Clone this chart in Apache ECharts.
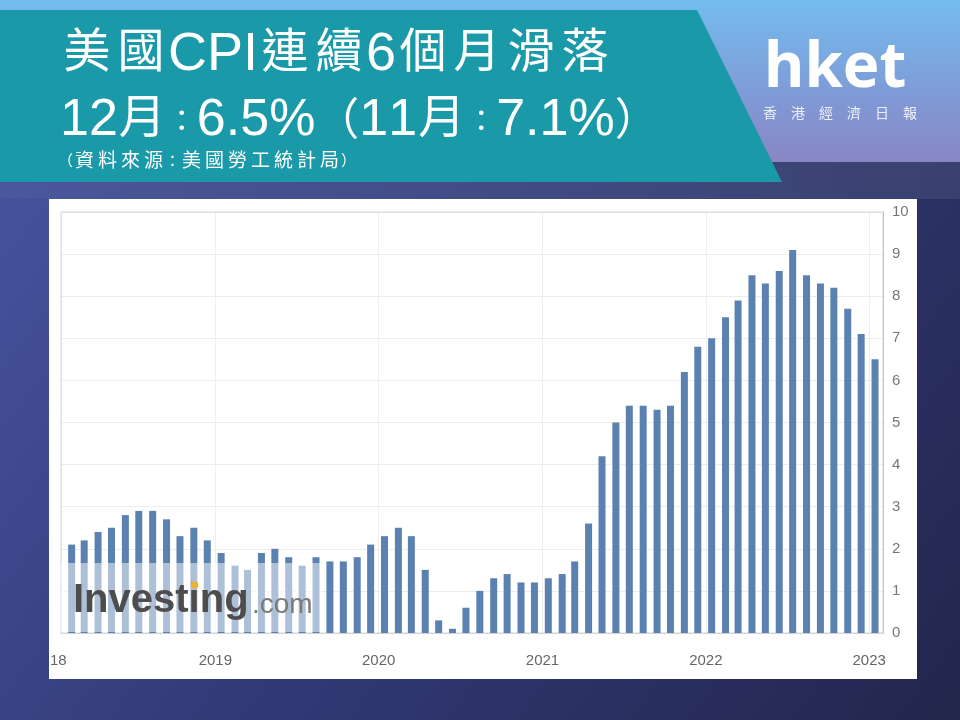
<!DOCTYPE html>
<html><head><meta charset="utf-8">
<script src="https://cdn.jsdelivr.net/npm/echarts@6/dist/echarts.min.js"></script>
<style>html,body{margin:0;padding:0;background:#2b2f60}#c{width:960px;height:720px}</style>
</head><body><div id="c"></div>
<script>
// Months (reference month of each CPI reading)
const months = [
 '2018-01','2018-02','2018-03','2018-04','2018-05','2018-06','2018-07','2018-08','2018-09','2018-10','2018-11','2018-12',
 '2019-01','2019-02','2019-03','2019-04','2019-05','2019-06','2019-07','2019-08','2019-09','2019-10','2019-11','2019-12',
 '2020-01','2020-02','2020-03','2020-04','2020-05','2020-06','2020-07','2020-08','2020-09','2020-10','2020-11','2020-12',
 '2021-01','2021-02','2021-03','2021-04','2021-05','2021-06','2021-07','2021-08','2021-09','2021-10','2021-11','2021-12',
 '2022-01','2022-02','2022-03','2022-04','2022-05','2022-06','2022-07','2022-08','2022-09','2022-10','2022-11','2022-12'
];
// US CPI YoY (%)
const cpi = [
 2.1,2.2,2.4,2.5,2.8,2.9,2.9,2.7,2.3,2.5,2.2,1.9,
 1.6,1.5,1.9,2.0,1.8,1.6,1.8,1.7,1.7,1.8,2.1,2.3,
 2.5,2.3,1.5,0.3,0.1,0.6,1.0,1.3,1.4,1.2,1.2,1.3,
 1.4,1.7,2.6,4.2,5.0,5.4,5.4,5.3,5.4,6.2,6.8,7.0,
 7.5,7.9,8.5,8.3,8.6,9.1,8.5,8.3,8.2,7.7,7.1,6.5
];
const yMin = 0, yMax = 10, yStep = 1;
const clippedFirstYearLabel = '18';
const titleLine1 = '美國CPI連續6個月滑落';
const titleLine2 = '12月：6.5%（11月：7.1%）';
const sourceLine = '（資料來源：美國勞工統計局）';

// Readings are plotted on their release date (about mid of the following month)
function releaseTime(m) {
  const [y, mo] = m.split('-').map(Number);
  return new Date(y, mo, 14).getTime();
}
const barData = months.map((m, i) => [releaseTime(m), cpi[i]]);

// build rich text: latin / cjk / bracket / colon tokens
function rich(str) {
  let out = '';
  for (const ch of str) {
    let cls = 'l';
    if (ch === '：') cls = 'k';
    else if ('（）'.includes(ch)) cls = 'p';
    else if (ch.charCodeAt(0) > 0x2e80) cls = 'c';
    out += '{' + cls + '|' + ch + '}';
  }
  return out;
}
const LAT = '"Liberation Sans",sans-serif';
const CJK = '"Noto Sans CJK TC","Liberation Sans",sans-serif';

const chart = echarts.init(document.getElementById('c'), null, {renderer: 'canvas'});
chart.setOption({
  animation: false,
  backgroundColor: 'transparent',
  grid: {left: 61, right: 77, top: 212, bottom: 87, show: true, borderColor: '#d6d6d6', borderWidth: 1, z: 1},
  xAxis: {
    type: 'time',
    min: new Date(2018, 0, 29).getTime(),
    max: new Date(2023, 0, 24).getTime(),
    minInterval: 365 * 24 * 3600 * 1000,
    axisLine: {show: true, lineStyle: {color: '#c9d3e0'}},
    axisTick: {show: false},
    axisLabel: {formatter: '{yyyy}', color: '#666', fontSize: 15, fontFamily: 'Liberation Sans', margin: 20,
                showMinLabel: false, showMaxLabel: false},
    splitLine: {show: true, lineStyle: {color: '#eeeeee'}}
  },
  yAxis: {
    type: 'value', position: 'right', min: yMin, max: yMax, interval: yStep,
    axisLine: {show: true, lineStyle: {color: '#b0b0b0'}},
    axisTick: {show: false},
    axisLabel: {color: '#777', fontSize: 15, fontFamily: 'Liberation Sans', margin: 9},
    splitLine: {show: true, lineStyle: {color: '#ececec'}}
  },
  series: [{
    type: 'bar', data: barData, barWidth: 7,
    itemStyle: {color: '#5a81b0'}, z: 3
  }],
  graphic: [
    // background
    {type: 'rect', z: -20, shape: {x: 0, y: 0, width: 960, height: 720},
     style: {fill: new echarts.graphic.LinearGradient(0, 0, 1, 1, [
       {offset: 0, color: '#4a58a4'}, {offset: 0.5, color: '#333a78'}, {offset: 1, color: '#22264c'}])}},
    {type: 'rect', z: -19, shape: {x: 0, y: 0, width: 960, height: 162},
     style: {fill: new echarts.graphic.LinearGradient(0, 0, 0, 1, [
       {offset: 0, color: '#74bcee'}, {offset: 0.6, color: '#7f9ad6'}, {offset: 1, color: '#8a86c4'}])}},
    {type: 'rect', z: -19, shape: {x: 0, y: 162, width: 960, height: 37},
     style: {fill: new echarts.graphic.LinearGradient(0, 0, 1, 0, [
       {offset: 0, color: '#4b579c'}, {offset: 1, color: '#3a406e'}])}},
    // teal banner
    {type: 'polygon', z: -18, shape: {points: [[0, 10], [697, 10], [782, 182], [0, 182]]},
     style: {fill: '#1a99a8'}},
    // title texts
    {type: 'text', z: -17, style: {text: rich(titleLine1), x: 60, y: 54, verticalAlign: 'middle', fill: '#fff',
      rich: {l: {fontSize: 54, fontFamily: LAT, fill: '#fff', verticalAlign: 'bottom'},
             c: {fontSize: 47, fontFamily: CJK, fill: '#fff', verticalAlign: 'bottom', padding: [0, 3.5, 9, 3.5]},
             k: {fontSize: 30, fontFamily: CJK, fill: '#fff', verticalAlign: 'middle'},
             p: {fontSize: 44, fontFamily: CJK, fill: '#fff', verticalAlign: 'bottom', padding: [0, 0, 6, 0]}}}},
    {type: 'text', z: -17, style: {text: rich(titleLine2), x: 60, y: 119, verticalAlign: 'middle', fill: '#fff',
      rich: {l: {fontSize: 52, fontFamily: LAT, fill: '#fff', verticalAlign: 'bottom'},
             c: {fontSize: 47, fontFamily: CJK, fill: '#fff', verticalAlign: 'bottom', padding: [0, 1, 8, 1]},
             k: {fontSize: 30, fontFamily: CJK, fill: '#fff', verticalAlign: 'bottom', padding: [0, 0, 12, 0]},
             p: {fontSize: 44, fontFamily: CJK, fill: '#fff', verticalAlign: 'bottom', padding: [0, 0, 6, 0]}}}},
    {type: 'text', z: -17, style: {text: rich(sourceLine), x: 58, y: 160, verticalAlign: 'middle', fill: '#fff',
      rich: {l: {fontSize: 19, fontFamily: LAT, fill: '#fff'},
             c: {fontSize: 19, fontFamily: CJK, fill: '#fff', padding: [0, 2, 0, 2]},
             k: {fontSize: 15, fontFamily: CJK, fill: '#fff'},
             p: {fontSize: 15, fontFamily: CJK, fill: '#fff'}}}},
    // logo
    {type: 'text', z: -17, style: {text: 'hket', x: 835, y: 69, align: 'center', verticalAlign: 'middle',
      fill: '#ffffff', font: 'bold 62px "Open Sans","Liberation Sans",sans-serif'}},
    {type: 'text', z: -17, style: {text: '香　港　經　濟　日　報', x: 763, y: 113, verticalAlign: 'middle',
      fill: 'rgba(255,255,255,0.85)', font: '14px "Noto Sans CJK TC",sans-serif'}},
    // white panel
    {type: 'rect', z: -5, shape: {x: 49, y: 199, width: 868, height: 480}, style: {fill: '#ffffff'}},
    // clipped first year label
    {type: 'text', z: 5, style: {text: clippedFirstYearLabel, x: 50, y: 661, verticalAlign: 'middle',
      fill: '#666', font: '15px "Liberation Sans",sans-serif'}},
    // watermark
    {type: 'rect', z: 10, shape: {x: 61, y: 563, width: 261, height: 69}, style: {fill: 'rgba(255,255,255,0.5)'}},
    {type: 'text', z: 11, style: {text: 'Investing', x: 73, y: 601, verticalAlign: 'middle',
      fill: '#4d4d4d', font: 'bold 40px "Liberation Sans",sans-serif'}},
    {type: 'text', z: 11, style: {text: '.com', x: 252, y: 605, verticalAlign: 'middle',
      fill: '#7a7a7a', font: '28px "Liberation Sans",sans-serif'}},
    {type: 'circle', z: 12, shape: {cx: 194.5, cy: 585, r: 3.8}, style: {fill: '#f0b232'}}
  ]
});
</script></body></html>
